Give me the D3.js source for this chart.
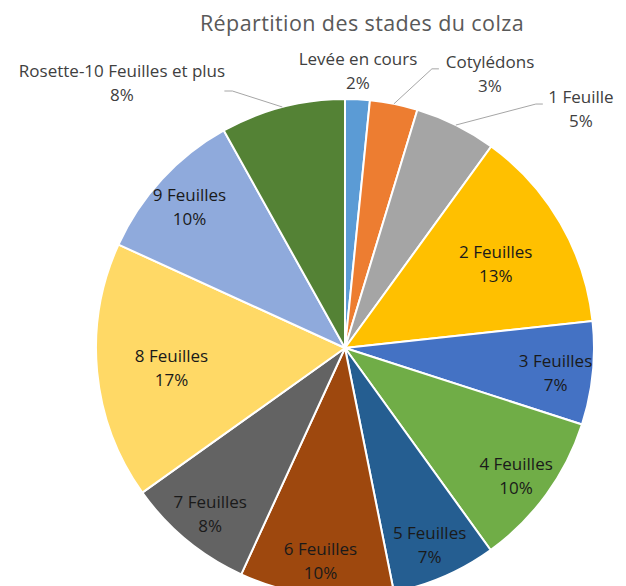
<!DOCTYPE html>
<html>
<head>
<meta charset="utf-8">
<script src="https://cdn.jsdelivr.net/npm/d3@7"></script>
<style>
  body { margin: 0; background: #fff; }
  text { font-family: "Open Sans", Lato, sans-serif; }
</style>
</head>
<body>
<div class="canvas"></div>
<script>
// data (percent of plots)
const stages = ['Levée en cours', 'Cotylédons', '1 Feuille', '2 Feuilles', '3 Feuilles', '4 Feuilles',
  '5 Feuilles', '6 Feuilles', '7 Feuilles', '8 Feuilles', '9 Feuilles', 'Rosette-10 Feuilles et plus'];
const shares = [1.6, 3.1, 5.3, 13.3, 6.7, 10.1, 6.8, 10.0, 8.3, 16.7, 10.1, 8.1];
const colours = ['#5b9bd5', '#ed7d31', '#a5a5a5', '#ffc000', '#4472c4', '#70ad47',
  '#255e91', '#9e480e', '#636363', '#ffd966', '#8faadc', '#548235'];

var width = 626, height = 586,
  cx = 345, cy = 348, radius = 249;

const svg = d3.select('.canvas')
  .append('svg')
  .attr('width', width)
  .attr('height', height);

svg.append('text')
  .attr('x', 362)
  .attr('y', 31)
  .attr('text-anchor', 'middle')
  .attr('fill', '#595959')
  .style('font-size', '21.5px')
  .style('letter-spacing', '0.4px')
  .text('Répartition des stades du colza');

const graph = svg.append('g')
  .attr('transform', `translate(${cx},${cy})`);

const total = d3.sum(shares);
const rows = stages.map((s, i) => ({stage: s, value: shares[i], colour: colours[i]}));

const pie = d3.pie().sort(null).value(d => d.value);
const arc = d3.arc().innerRadius(0).outerRadius(radius);

const slices = pie(rows);

graph.selectAll('path')
  .data(slices)
  .enter()
  .append('path')
    .attr('d', arc)
    .attr('fill', d => d.data.colour)
    .attr('stroke', '#fff')
    .attr('stroke-width', 2);

const pct = d => Math.round(d.data.value / total * 100) + '%';
const mid = d => (d.startAngle + d.endAngle) / 2;
const polar = (a, r) => [Math.sin(a) * r, -Math.cos(a) * r];

// labels moved outside the pie (offsets from the slice edge)
const outside = {
  'Levée en cours': {lx: 13, ly: -276, elbow: null},
  'Cotylédons': {lx: 145, ly: -273, elbow: [38, -35], tail: 7},
  '1 Feuille': {lx: 236, ly: -238, elbow: [80, -21], tail: 7},
  'Rosette-10 Feuilles et plus': {lx: -223, ly: -264, elbow: [-50, -16], tail: -8}
};

slices.forEach(d => {
  const o = outside[d.data.stage];
  let x, y, fill;
  if (o) {
    x = o.lx; y = o.ly; fill = '#404040';
    if (o.elbow) {
      const [sx, sy] = polar(mid(d), radius);
      const ex = sx + o.elbow[0], ey = sy + o.elbow[1];
      graph.append('polyline')
        .attr('points', [[sx, sy], [ex, ey], [ex + o.tail, ey]].map(p => p.join(',')).join(' '))
        .attr('fill', 'none')
        .attr('stroke', '#a6a6a6')
        .attr('stroke-width', 1);
    }
  } else {
    const k = d.data.value > 12 ? 0.70 : 0.85;
    [x, y] = polar(mid(d), radius * k);
    y += 4;
    fill = '#1a1a1a';
  }
  const t = graph.append('text')
    .attr('text-anchor', 'middle')
    .attr('fill', fill)
    .style('font-size', '17px');
  t.append('tspan').attr('x', x).attr('y', y - 7).text(d.data.stage);
  t.append('tspan').attr('x', x).attr('y', y + 17).text(pct(d));
});
</script>
</body>
</html>
